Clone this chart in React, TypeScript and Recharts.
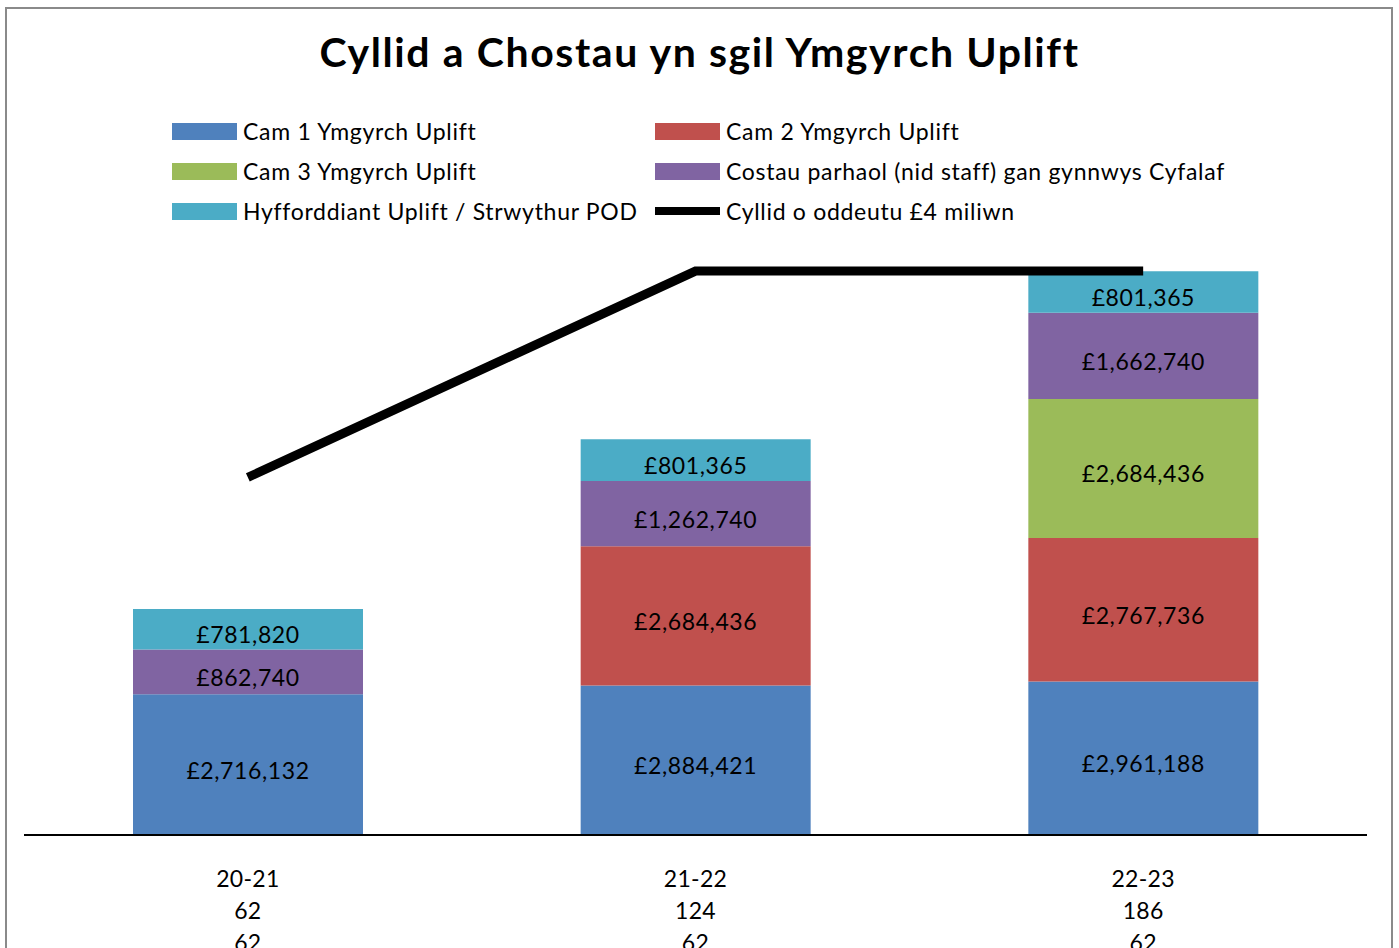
import { ComposedChart, Bar, Line, XAxis, YAxis, LabelList } from "recharts";

const periods = ["20-21", "21-22", "22-23"];
const countsA = [62, 124, 186];
const countsB = [62, 62, 62];

const cam1 = [2716132, 2884421, 2961188];
const cam2 = [0, 2684436, 2767736];
const cam3 = [0, 0, 2684436];
const costau = [862740, 1262740, 1662740];
const hyfforddiant = [781820, 801365, 801365];
const cyllid = [6900000, 10880000, 10880000];

const seriesNames = {
  cam1: "Cam 1 Ymgyrch Uplift",
  cam2: "Cam 2 Ymgyrch Uplift",
  cam3: "Cam 3 Ymgyrch Uplift",
  costau: "Costau parhaol (nid staff) gan gynnwys Cyfalaf",
  hyfforddiant: "Hyfforddiant Uplift / Strwythur POD",
  cyllid: "Cyllid o oddeutu £4 miliwn",
};

const colors = {
  cam1: "#4F81BD",
  cam2: "#C0504D",
  cam3: "#9BBB59",
  costau: "#8064A2",
  hyfforddiant: "#4BACC6",
  cyllid: "#000000",
};

const data = periods.map((p, i) => ({
  name: p,
  cam1: cam1[i],
  cam2: cam2[i],
  cam3: cam3[i],
  costau: costau[i],
  hyfforddiant: hyfforddiant[i],
  cyllid: cyllid[i],
}));

const FONT = "Lato, 'Open Sans', sans-serif";

const legendRows: (keyof typeof seriesNames)[][] = [
  ["cam1", "cam2"],
  ["cam3", "costau"],
  ["hyfforddiant", "cyllid"],
];

const fmt = (v: any) => (v ? "£" + Number(v).toLocaleString("en-GB") : "");

// excel puts the data labels a few px below the segment centre
const SegmentLabel = (props: any) => {
  const { x, y, width, height, value } = props;
  const txt = fmt(value);
  if (!txt) return null;
  return (
    <text
      x={x + width / 2}
      y={y + height / 2 + 5}
      textAnchor="middle"
      dominantBaseline="central"
      fill="#000"
      fontSize={23}
      fontFamily={FONT}
      style={{ letterSpacing: 0.6 }}
    >
      {txt}
    </text>
  );
};

const PeriodTick = (props: any) => {
  const { x, y, payload } = props;
  const i = payload.index;
  return (
    <text
      x={x}
      y={y}
      textAnchor="middle"
      fill="#000"
      fontSize={23}
      fontFamily={FONT}
      style={{ letterSpacing: 0.3 }}
    >
      <tspan x={x} dy={50}>{periods[i]}</tspan>
      <tspan x={x} dy={32}>{countsA[i]}</tspan>
      <tspan x={x} dy={32}>{countsB[i]}</tspan>
    </text>
  );
};

const stackKeys: (keyof typeof seriesNames)[] = ["cam1", "cam2", "cam3", "costau", "hyfforddiant"];

export default function App() {
  return (
    <div
      style={{
        position: "absolute",
        left: 0,
        top: 0,
        width: 1399,
        height: 948,
        overflow: "hidden",
        background: "#fff",
        fontFamily: FONT,
      }}
    >
      <div
        style={{
          position: "absolute",
          left: 5,
          top: 7,
          width: 1384,
          height: 1000,
          border: "2px solid #8a8a8a",
        }}
      />
      <div
        style={{
          position: "absolute",
          left: 0,
          top: 26,
          width: 1399,
          textAlign: "center",
          fontSize: 41,
          fontWeight: 700,
          letterSpacing: 1.6,
          lineHeight: "52px",
          color: "#000",
        }}
      >
        Cyllid a Chostau yn sgil Ymgyrch Uplift
      </div>
      {legendRows.map((row, r) =>
        row.map((key, c) => (
          <div
            key={key}
            style={{
              position: "absolute",
              left: c === 0 ? 172 : 655,
              top: 115 + r * 40,
              height: 32,
              display: "flex",
              alignItems: "center",
              fontSize: 23,
              letterSpacing: 0.7,
              color: "#000",
              whiteSpace: "nowrap",
            }}
          >
            <span
              style={{
                display: "inline-block",
                width: 65,
                height: key === "cyllid" ? 8 : 17,
                background: colors[key],
                marginRight: 6,
              }}
            />
            {seriesNames[key]}
          </div>
        ))
      )}
      <div style={{ position: "absolute", left: 0, top: 0 }}>
        <ComposedChart
          width={1399}
          height={948}
          data={data}
          margin={{ top: 213, right: 32, bottom: 0, left: 24 }}
        >
          <XAxis
            dataKey="name"
            height={113}
            tickLine={false}
            tickSize={0}
            axisLine={{ stroke: "#000", strokeWidth: 2 }}
            tick={<PeriodTick />}
            interval={0}
          />
          <YAxis hide domain={[0, 12000000]} />
          {stackKeys.map((key) => (
            <Bar
              key={key}
              dataKey={key}
              name={seriesNames[key]}
              stackId="a"
              fill={colors[key]}
              barSize={230}
              isAnimationActive={false}
            >
              <LabelList dataKey={key} content={<SegmentLabel />} />
            </Bar>
          ))}
          <Line
            type="linear"
            dataKey="cyllid"
            name={seriesNames.cyllid}
            stroke="#000"
            strokeWidth={9}
            dot={false}
            activeDot={false}
            isAnimationActive={false}
          />
        </ComposedChart>
      </div>
    </div>
  );
}
